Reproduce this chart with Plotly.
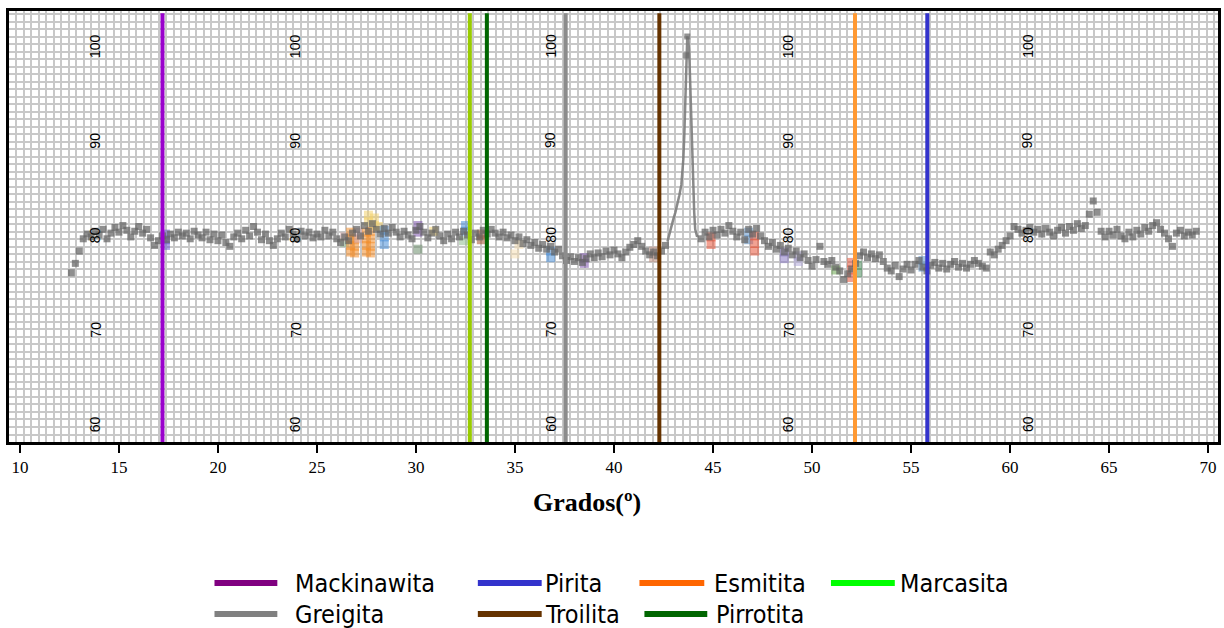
import plotly.graph_objects as go

# Diffractogram: intensity sampled every 0.2 degrees before and after the main reflection
scan_a_start = 12.6
intensity_a = [
    76.0, 77.0, 78.3, 79.6, 80.1, 79.8, 80.4, 80.0, 80.6, 79.6,
    80.2, 80.8, 80.3, 81.0, 80.5, 79.8, 80.4, 80.9, 80.2, 80.6,
    79.7, 78.9, 79.4, 79.9, 79.5, 80.1, 79.7, 80.3, 79.9, 80.2,
    79.6, 80.4, 80.0, 79.7, 80.3, 79.5, 80.1, 79.4, 80.0, 79.2,
    78.8, 79.8, 80.2, 79.6, 80.5, 79.9, 80.9, 80.3, 79.5, 80.1,
    79.4, 78.9, 79.6, 80.2, 79.8, 80.6, 80.1, 79.6, 80.4, 79.9,
    80.3, 79.7, 80.1, 79.8, 80.5, 79.9, 80.3, 79.6, 79.2, 79.8,
    79.4, 80.2, 80.6, 79.9, 81.0, 80.4, 81.2, 80.6, 80.1, 80.7,
    80.2, 80.8, 80.3, 79.8, 80.4, 80.0, 79.6, 80.5, 80.9, 80.3,
    79.7, 80.2, 80.6, 79.9, 79.4, 80.1, 79.6, 80.3, 79.8, 80.4,
    80.0, 79.5, 80.2, 79.8, 80.5, 80.1, 80.6, 80.2, 79.8, 80.3,
    79.7, 80.0, 79.4, 79.8, 79.1, 79.5, 78.9, 79.2, 78.6, 79.0,
    78.5, 78.8, 78.2, 78.5, 77.8, 77.3, 77.7, 77.2, 77.6, 77.1,
    77.5, 78.0, 77.6, 78.1, 77.7, 78.3, 77.9, 78.4, 78.0, 77.6,
    78.2, 78.7, 79.0, 79.4, 78.8, 78.3, 77.9, 78.2, 77.8, 78.3,
    78.9,
]

peak_theta = [42.7, 42.8, 42.9, 43.0, 43.1, 43.2, 43.3, 43.4, 43.5, 43.55,
              43.6, 43.65, 43.7, 43.75, 43.8, 43.85, 43.9, 43.95, 44.0, 44.05,
              44.1, 44.2]
peak_intensity = [79.3, 80.2, 81.0, 81.7, 82.4, 83.2, 84.2, 85.3, 88.0, 90.5,
                  94.0, 99.0, 101.0, 100.6, 99.3, 96.0, 92.2, 88.4, 85.0, 82.4,
                  80.6, 79.8]

scan_b_start = 44.4
intensity_b = [
    79.6, 80.3, 79.8, 80.5, 80.0, 80.6, 80.2, 81.0, 80.4, 79.8,
    80.3, 79.5, 80.6, 80.1, 80.7, 79.9, 79.4, 78.8, 79.2, 78.5,
    78.9, 78.2, 78.6, 77.9, 78.3, 77.6, 78.0, 77.3, 76.7, 77.4,
    78.8, 77.2, 76.9, 77.3, 76.6, 76.2, 75.3, 75.9, 76.4, 77.0,
    77.8, 78.2, 77.6, 78.0, 77.5, 77.9, 77.2, 76.5, 76.2, 76.8,
    75.6, 76.4, 76.9, 76.3, 76.9, 77.3, 76.6, 76.2, 76.8, 77.1,
    76.5, 77.0, 76.4, 76.9, 77.2, 76.6, 77.0, 76.5, 76.9, 77.3,
    77.0, 76.7, 76.5, 78.2, 77.9, 78.5, 78.9, 79.4, 79.9, 80.9,
    80.6, 80.2, 80.5, 80.8, 80.3, 80.6, 80.1, 80.7, 80.3, 79.9,
    80.5, 80.8, 80.2, 80.9, 80.5, 81.2, 80.7, 81.0, 82.2, 83.6,
    82.4, 80.4, 79.8, 80.4, 80.0, 80.6, 79.9, 79.6, 80.3, 79.8,
    80.5, 80.1, 80.8, 80.4, 81.0, 81.3, 80.6, 80.2, 79.6, 78.8,
    80.2, 80.5, 79.9, 80.3, 80.0, 80.4,
]
scan_step = 0.2

# Minor coloured reflections overlaid on the pattern
blob_theta = [17.35, 17.35, 17.35, 26.4, 26.4,
              26.7, 26.7, 26.7, 26.7, 26.9, 26.9, 26.9, 27.1, 27.1,
              27.5, 27.5, 27.5, 27.5, 27.7, 27.7, 27.7, 27.7,
              27.6, 27.6, 27.9, 27.9, 28.1,
              28.4, 28.4, 28.4, 30.1, 30.1, 30.1, 30.9, 32.5, 32.5, 32.4,
              33.3, 33.3, 35.2, 35.0, 36.8, 36.8, 38.5, 38.5, 42.0, 42.0,
              44.9, 44.9, 46.8, 46.8, 47.1, 47.1, 47.1, 48.6, 48.6, 49.3, 49.3,
              51.2, 52.0, 52.0, 52.0, 52.3, 52.3, 55.6, 55.6]
blob_intensity = [78.9, 79.5, 80.1, 79.2, 79.8,
                  78.2, 78.9, 79.6, 80.3, 78.1, 78.8, 79.5, 79.6, 80.3,
                  78.2, 78.9, 79.6, 80.3, 78.1, 78.8, 79.6, 80.4,
                  81.4, 82.1, 81.0, 81.8, 80.9,
                  79.0, 79.8, 80.5, 80.3, 81.0, 78.5, 80.4, 80.4, 81.0, 79.4,
                  79.5, 80.1, 79.0, 78.0, 77.6, 78.3, 77.0, 77.6, 77.6, 78.3,
                  79.0, 79.8, 79.5, 80.3, 78.3, 79.1, 79.9, 77.5, 78.2, 77.2, 77.8,
                  76.3, 75.5, 76.3, 77.1, 76.0, 76.8, 76.6, 77.3]
blob_color = ["#6a5acd", "#6a5acd", "#6a5acd", "#8fbc8f", "#d4a5a5",
              "#f28e2b", "#f28e2b", "#f28e2b", "#f28e2b", "#f28e2b", "#f28e2b",
              "#f28e2b", "#d4a5a5", "#d4a5a5",
              "#f28e2b", "#f28e2b", "#f28e2b", "#f28e2b",
              "#f28e2b", "#f28e2b", "#f28e2b", "#f28e2b",
              "#f2d16b", "#f2d16b", "#f2d16b", "#f2d16b", "#f2d16b",
              "#4a90d9", "#4a90d9", "#4a90d9", "#7b52ab",
              "#7b52ab", "#6b8e6b", "#f2d16b", "#4a90d9", "#4a90d9", "#8fbc8f",
              "#a0522d", "#a0522d", "#f5deb3", "#f5deb3", "#4a90d9", "#4a90d9",
              "#7b52ab", "#7b52ab", "#c09080", "#c09080", "#e8553a", "#e8553a",
              "#5b8fc7", "#5b8fc7", "#e8553a", "#e8553a", "#e8553a", "#8878c3",
              "#8878c3", "#b0a8d8", "#b0a8d8", "#6aa84f", "#e8553a", "#e8553a",
              "#e8553a", "#4f8f5f", "#4f8f5f", "#5b8fc7", "#5b8fc7"]

# Reference phases (2-theta of the marker line)
phase_names = ["Mackinawita", "Marcasita", "Pirrotita", "Greigita",
               "Troilita", "Esmitita", "Pirita"]
phase_theta = [17.2, 32.72, 33.58, 37.56, 42.29, 52.17, 55.82]
phase_line_color = ["#9900CC", "#99CC00", "#006600", "#8C8C8C",
                    "#663300", "#FF9933", "#3333CC"]

# Legend entries and their swatch colours
legend_names = ["Mackinawita", "Pirita", "Esmitita", "Marcasita",
                "Greigita", "Troilita", "Pirrotita"]
legend_colors = ["#800080", "#3333CC", "#FF6600", "#00FF00",
                 "#808080", "#663300", "#006600"]

# Intensity labels repeated across the chart
level_values = [60, 70, 80, 90, 100]
level_label_theta = [13.8, 23.9, 36.8, 48.8, 60.9]

theta_a = [round(scan_a_start + scan_step * i, 2) for i in range(len(intensity_a))]
theta_b = [round(scan_b_start + scan_step * i, 2) for i in range(len(intensity_b))]

# ---- page geometry (pixels) ----
W, H = 1224, 628
ML, MR, MT, MB = 9, 3, 11, 186
PW, PH = W - ML - MR, H - MT - MB


def px_to_paper_x(px):
    return (px - ML) / PW


def py_to_paper_y(py):
    return (H - MB - py) / PH


fig = go.Figure()

# coloured minor reflections (soft, semi-transparent)
fig.add_trace(go.Scatter(
    x=blob_theta, y=blob_intensity, mode="markers", showlegend=False,
    marker=dict(symbol="square", size=9, color=blob_color, opacity=0.55,
                line=dict(width=0)),
    hoverinfo="skip"))

# main reflection drawn as a continuous profile
fig.add_trace(go.Scatter(
    x=peak_theta, y=peak_intensity, mode="lines", showlegend=False,
    line=dict(color="rgba(125,125,125,0.9)", width=2.5), hoverinfo="skip"))

# background pattern as square markers
fig.add_trace(go.Scatter(
    x=theta_a + theta_b, y=intensity_a + intensity_b, mode="markers",
    showlegend=False,
    marker=dict(symbol="square", size=7, color="rgba(100,100,100,0.72)",
                line=dict(width=0)),
    hoverinfo="skip"))
fig.add_trace(go.Scatter(
    x=[peak_theta[11], peak_theta[12]], y=[peak_intensity[11], peak_intensity[12]],
    mode="markers", showlegend=False,
    marker=dict(symbol="square", size=6, color="rgba(105,105,105,0.72)"),
    hoverinfo="skip"))

shapes = []
for t, c in zip(phase_theta, phase_line_color):
    shapes.append(dict(type="line", xref="x", yref="paper", x0=t, x1=t,
                       y0=0, y1=0.995, line=dict(color=c, width=4), layer="above"))

annotations = []
for t in level_label_theta:
    for v in level_values:
        annotations.append(dict(x=t, y=v, xref="x", yref="y", text=str(v),
                                showarrow=False, textangle=-90,
                                font=dict(family="Liberation Sans, Arial", size=14,
                                          color="black")))

# x-axis title
annotations.append(dict(x=px_to_paper_x(588), y=py_to_paper_y(503), xref="paper",
                        yref="paper", text="<b>Grados(º)</b>", showarrow=False,
                        xanchor="center", yanchor="middle",
                        font=dict(family="Liberation Serif, Times New Roman",
                                  size=26, color="black")))

# legend laid out in two rows beneath the axis
legend_swatch_px = [(215, 278), (479, 543), (641, 706), (833, 897),
                    (215, 278), (479, 543), (646, 709)]
legend_text_px = [294, 544, 714, 900, 294, 544, 716]
legend_row_py = [583, 583, 583, 583, 614, 614, 614]
for name, col, (x0, x1), tx, py in zip(legend_names, legend_colors, legend_swatch_px,
                                        legend_text_px, legend_row_py):
    shapes.append(dict(type="line", xref="paper", yref="paper",
                       x0=px_to_paper_x(x0), x1=px_to_paper_x(x1),
                       y0=py_to_paper_y(py), y1=py_to_paper_y(py),
                       line=dict(color=col, width=6)))
    annotations.append(dict(x=px_to_paper_x(tx), y=py_to_paper_y(py), xref="paper",
                            yref="paper", text=name, showarrow=False,
                            xanchor="left", yanchor="middle",
                            font=dict(family="Liberation Sans Narrow, DejaVu Sans Condensed, Arial Narrow, sans-serif",
                                      size=25, color="black")))

fig.update_layout(
    width=W, height=H,
    margin=dict(l=ML, r=MR, t=MT, b=MB, pad=0),
    paper_bgcolor="white", plot_bgcolor="white",
    showlegend=False,
    shapes=shapes, annotations=annotations,
    xaxis=dict(
        range=[9.45, 70.5], tick0=10, dtick=5, showgrid=False, zeroline=False,
        ticks="outside", ticklen=8, tickwidth=2, tickcolor="black",
        showline=True, linecolor="black", linewidth=3, mirror=True,
        tickfont=dict(family="Liberation Serif, Times New Roman", size=17, color="black"),
        minor=dict(dtick=0.378, tick0=9.45, showgrid=True, gridcolor="#C8C8C8",
                   gridwidth=2, ticks=""),
    ),
    yaxis=dict(
        range=[58.1, 103.7], showticklabels=False, ticks="", showgrid=False,
        zeroline=False, showline=True, linecolor="black", linewidth=3, mirror=True,
        dtick=10,
        minor=dict(dtick=0.794, tick0=58.1, showgrid=True, gridcolor="#C8C8C8",
                   gridwidth=2, ticks=""),
    ),
)

fig.write_html("out.html")
